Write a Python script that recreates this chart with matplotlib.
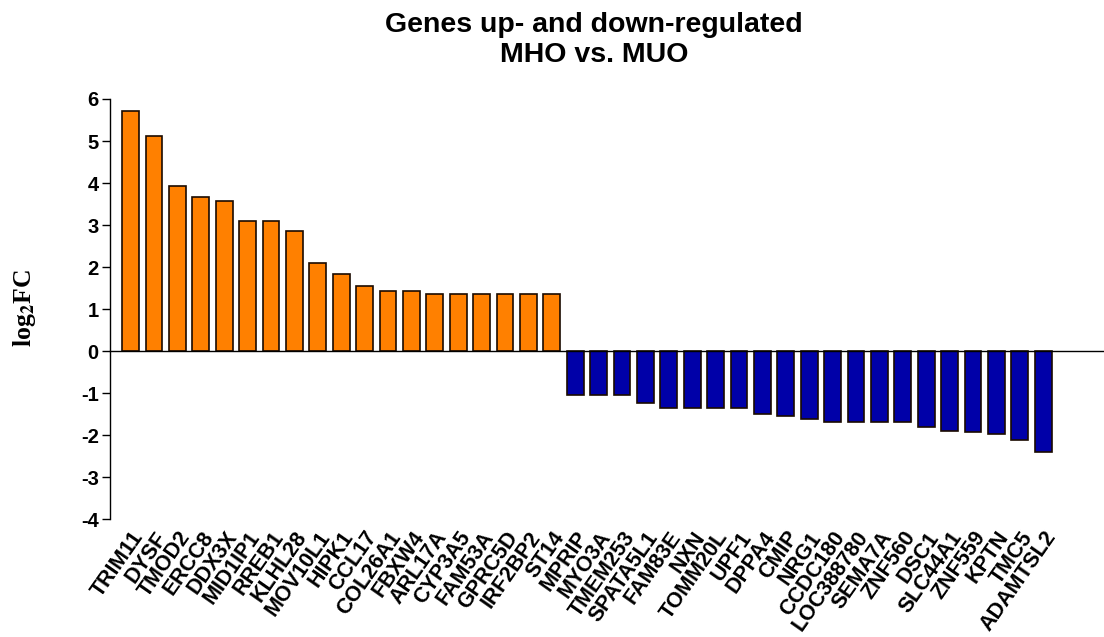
import numpy as np
import matplotlib
matplotlib.use("Agg")
import matplotlib.pyplot as plt

# genes and log2 fold changes
up_genes = ["TRIM11", "DYSF", "TMOD2", "ERCC8", "DDX3X", "MID1IP1", "RREB1",
            "KLHL28", "MOV10L1", "HIPK1", "CCL17", "COL26A1", "FBXW4",
            "ARL17A", "CYP3A5", "FAM53A", "GPRC5D", "IRF2BP2", "ST14"]
up_fc = [5.71, 5.12, 3.94, 3.66, 3.58, 3.10, 3.10, 2.86, 2.09, 1.84, 1.56,
         1.44, 1.44, 1.36, 1.36, 1.36, 1.36, 1.36, 1.36]

down_genes = ["MPRIP", "MYO3A", "TMEM253", "SPATA5L1", "FAM83E", "NXN",
              "TOMM20L", "UPF1", "DPPA4", "CMIP", "NRG1", "CCDC180",
              "LOC388780", "SEMA7A", "ZNF560", "DSC1", "SLC44A1", "ZNF559",
              "KPTN", "TMC5", "ADAMTSL2"]
down_fc = [-1.04, -1.04, -1.04, -1.24, -1.35, -1.35, -1.35, -1.35, -1.49,
           -1.54, -1.62, -1.68, -1.68, -1.68, -1.68, -1.81, -1.89, -1.93,
           -1.97, -2.11, -2.39]

genes = up_genes + down_genes
fc = up_fc + down_fc
colors = ["#FF8000"] * len(up_genes) + ["#0000A8"] * len(down_genes)

plt.rcParams['font.family'] = ['Liberation Sans', 'DejaVu Sans']
plt.rcParams['axes.unicode_minus'] = False
plt.rcParams['mathtext.fontset'] = 'stix'

fig = plt.figure(figsize=(11.04, 6.37), dpi=100)
ax = fig.add_axes([0.0996, 0.185, 0.9004, 0.6596])

x = np.arange(len(genes))
ax.bar(x, fc, width=0.72, color=colors, edgecolor="#1a0a00", linewidth=1.2)

ax.set_xlim(-0.88, 41.6)
ax.set_ylim(-4, 6)
ax.set_yticks(np.arange(-4, 7, 1))
ax.tick_params(axis='y', length=6, width=1, labelsize=14.5, pad=2)
for t in ax.get_yticklabels():
    t.set_fontweight('bold')

ax.set_xticks(x)
ax.set_xticklabels(genes, rotation=55, ha='right', va='top',
                   rotation_mode='anchor', fontsize=15.5, fontweight='bold')
ax.tick_params(axis='x', length=0, pad=6)

for s in ['top', 'right', 'bottom']:
    ax.spines[s].set_visible(False)
ax.spines['left'].set_linewidth(1)
ax.axhline(0, color='black', linewidth=1, clip_on=False)

ax.set_ylabel(r"log$_\mathbf{2}$FC", fontsize=18.5, fontweight='bold',
              fontfamily='Liberation Serif')
ax.yaxis.set_label_coords(-0.072, 0.502)

fig.text(0.538, 0.960, "Genes up- and down-regulated", fontsize=20.5,
         fontweight='bold', ha='center', va='center')
fig.text(0.538, 0.913, "MHO vs. MUO", fontsize=20.5,
         fontweight='bold', ha='center', va='center')

fig.savefig("out.png", dpi=100)
